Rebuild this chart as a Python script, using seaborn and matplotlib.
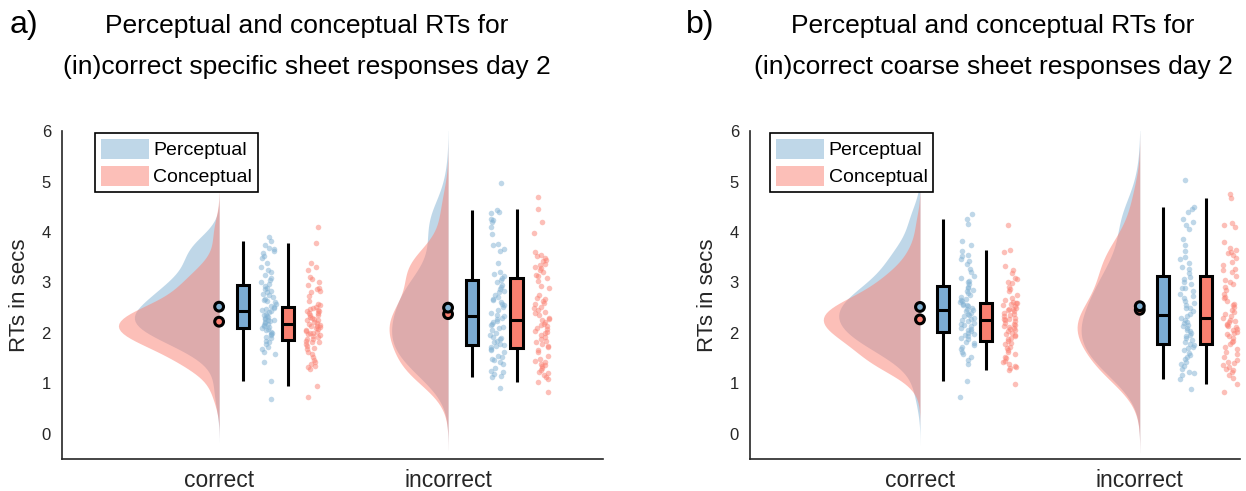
import numpy as np
import pandas as pd
import matplotlib
matplotlib.use("Agg")
import matplotlib.pyplot as plt
from matplotlib.patches import Patch
import seaborn as sns

# RTs (secs)
a_cor_perc = [3.91, 3.83, 3.74, 3.68, 3.66, 3.63, 3.58, 3.53, 3.48, 3.38, 3.30, 3.25, 3.20, 3.14, 3.09, 3.04,
              3.00, 2.97, 2.94, 2.90, 2.87, 2.83, 2.81, 2.78, 2.76, 2.72, 2.68, 2.66, 2.64, 2.61, 2.58, 2.54,
              2.52, 2.50, 2.47, 2.45, 2.43, 2.41, 2.38, 2.36, 2.34, 2.31, 2.30, 2.28, 2.26, 2.25, 2.24, 2.22,
              2.20, 2.18, 2.15, 2.14, 2.12, 2.10, 2.08, 2.05, 2.02, 1.99, 1.98, 1.95, 1.92, 1.89, 1.85, 1.82,
              1.79, 1.72, 1.69, 1.62, 1.59, 1.43, 1.05, 0.69]
a_cor_conc = [4.10, 3.79, 3.38, 3.30, 3.25, 3.10, 3.07, 3.00, 2.95, 2.90, 2.87, 2.84, 2.81, 2.74, 2.64, 2.58,
              2.55, 2.52, 2.50, 2.48, 2.46, 2.44, 2.43, 2.40, 2.39, 2.36, 2.35, 2.31, 2.30, 2.28, 2.26, 2.25,
              2.22, 2.20, 2.18, 2.16, 2.14, 2.13, 2.12, 2.10, 2.08, 2.06, 2.04, 2.02, 2.00, 1.99, 1.97, 1.95,
              1.93, 1.91, 1.88, 1.87, 1.85, 1.83, 1.82, 1.78, 1.74, 1.70, 1.69, 1.62, 1.58, 1.53, 1.46, 1.43,
              1.38, 1.35, 1.33, 1.28, 0.95, 0.73]
a_inc_perc = [4.98, 4.43, 4.40, 4.37, 4.25, 4.23, 4.19, 4.09, 3.97, 3.76, 3.75, 3.66, 3.62, 3.38, 3.20, 3.16,
              3.12, 3.09, 3.04, 3.00, 2.95, 2.91, 2.87, 2.84, 2.81, 2.75, 2.71, 2.68, 2.65, 2.61, 2.58, 2.55,
              2.52, 2.45, 2.40, 2.36, 2.33, 2.30, 2.28, 2.24, 2.22, 2.18, 2.15, 2.12, 2.10, 2.05, 2.00, 1.95,
              1.92, 1.89, 1.87, 1.85, 1.82, 1.79, 1.76, 1.75, 1.72, 1.69, 1.66, 1.62, 1.55, 1.52, 1.49, 1.46,
              1.43, 1.39, 1.30, 1.25, 1.23, 1.18, 1.15, 1.13, 0.90]
a_inc_conc = [4.69, 4.45, 4.20, 3.99, 3.60, 3.55, 3.53, 3.48, 3.45, 3.42, 3.37, 3.35, 3.30, 3.28, 3.25, 3.20,
              3.15, 3.12, 3.09, 3.02, 2.94, 2.90, 2.76, 2.70, 2.68, 2.63, 2.60, 2.58, 2.52, 2.50, 2.46, 2.42,
              2.39, 2.35, 2.30, 2.28, 2.25, 2.22, 2.18, 2.15, 2.13, 2.10, 2.08, 2.04, 2.02, 1.99, 1.95, 1.92,
              1.88, 1.85, 1.82, 1.79, 1.75, 1.72, 1.66, 1.62, 1.55, 1.49, 1.45, 1.42, 1.39, 1.36, 1.34, 1.30,
              1.26, 1.22, 1.20, 1.16, 1.12, 1.08, 1.03, 0.83]

b_cor_perc = [4.35, 4.25, 4.16, 3.83, 3.74, 3.63, 3.55, 3.53, 3.47, 3.43, 3.36, 3.26, 3.20, 3.13, 3.09, 3.03,
              3.00, 2.96, 2.92, 2.89, 2.86, 2.83, 2.79, 2.75, 2.71, 2.68, 2.66, 2.63, 2.61, 2.58, 2.56, 2.55,
              2.53, 2.50, 2.47, 2.45, 2.43, 2.40, 2.38, 2.35, 2.33, 2.30, 2.27, 2.25, 2.23, 2.20, 2.18, 2.15,
              2.13, 2.10, 2.07, 2.05, 2.03, 2.00, 1.98, 1.95, 1.93, 1.90, 1.87, 1.83, 1.80, 1.76, 1.72, 1.69,
              1.63, 1.58, 1.53, 1.46, 1.38, 1.04, 0.73]
b_cor_conc = [4.14, 3.65, 3.60, 3.33, 3.25, 3.19, 3.09, 3.06, 3.00, 2.98, 2.92, 2.88, 2.83, 2.76, 2.69, 2.65,
              2.62, 2.60, 2.59, 2.57, 2.55, 2.53, 2.50, 2.48, 2.47, 2.45, 2.43, 2.40, 2.38, 2.35, 2.33, 2.30,
              2.28, 2.27, 2.25, 2.23, 2.20, 2.18, 2.15, 2.13, 2.12, 2.10, 2.07, 2.05, 2.03, 2.00, 1.98, 1.95,
              1.93, 1.90, 1.87, 1.85, 1.81, 1.78, 1.73, 1.70, 1.66, 1.62, 1.59, 1.53, 1.50, 1.45, 1.42, 1.38,
              1.35, 1.33, 1.30, 1.27, 0.99]
b_inc_perc = [5.03, 4.49, 4.46, 4.40, 4.26, 4.19, 4.13, 4.06, 3.86, 3.75, 3.63, 3.50, 3.46, 3.39, 3.30, 3.26,
              3.19, 3.10, 3.06, 3.00, 2.96, 2.90, 2.89, 2.83, 2.78, 2.73, 2.70, 2.63, 2.60, 2.56, 2.50, 2.49,
              2.43, 2.38, 2.33, 2.30, 2.26, 2.22, 2.19, 2.16, 2.13, 2.10, 2.06, 2.03, 1.99, 1.96, 1.93, 1.90,
              1.86, 1.83, 1.79, 1.76, 1.73, 1.70, 1.66, 1.60, 1.56, 1.52, 1.49, 1.43, 1.39, 1.35, 1.29, 1.23,
              1.20, 1.16, 1.09, 0.89]
b_inc_conc = [4.76, 4.67, 4.18, 4.14, 4.09, 3.80, 3.69, 3.65, 3.60, 3.59, 3.54, 3.49, 3.41, 3.35, 3.27, 3.25,
              3.21, 3.13, 3.05, 3.00, 2.96, 2.91, 2.85, 2.78, 2.72, 2.69, 2.63, 2.58, 2.55, 2.51, 2.46, 2.42,
              2.38, 2.33, 2.30, 2.26, 2.24, 2.21, 2.18, 2.16, 2.13, 2.11, 2.08, 2.06, 2.02, 1.99, 1.97, 1.94,
              1.89, 1.85, 1.83, 1.78, 1.73, 1.68, 1.63, 1.58, 1.53, 1.47, 1.43, 1.40, 1.36, 1.32, 1.29, 1.26,
              1.23, 1.16, 1.10, 0.99, 0.83]

categories = ["correct", "incorrect"]
conditions = ["Perceptual", "Conceptual"]
panel_labels = ["a)", "b)"]
title_lines = [["Perceptual and conceptual RTs for", "(in)correct specific sheet responses day 2"],
               ["Perceptual and conceptual RTs for", "(in)correct coarse sheet responses day 2"]]

PALETTE = {"Perceptual": "#80B1D3", "Conceptual": "#FB8072"}
BOX_COLORS = {"Perceptual": "#7BABD2", "Conceptual": "#F98070"}


def make_frame(cor_perc, cor_conc, inc_perc, inc_conc):
    parts = []
    for cat, cond, vals in [("correct", "Perceptual", cor_perc), ("correct", "Conceptual", cor_conc),
                            ("incorrect", "Perceptual", inc_perc), ("incorrect", "Conceptual", inc_conc)]:
        parts.append(pd.DataFrame({"category": cat, "condition": cond, "rt": vals}))
    df = pd.concat(parts, ignore_index=True)
    df["pos"] = df["category"].map({c: i + 1 for i, c in enumerate(categories)})
    return df


def raincloud(ax, df, xlim, legend_x):
    # half violins: flat side sits on the category position
    for cond, w in [("Perceptual", 0.37), ("Conceptual", 0.44)]:
        sub = df[df["condition"] == cond]
        sns.violinplot(x=sub["pos"] - w / 2, y=sub["rt"], native_scale=True, orient="v", split=True,
                       inner=None, cut=3, width=w, color=PALETTE[cond], saturation=1,
                       alpha=0.5, linewidth=0, ax=ax)

    offsets = {"Perceptual": (0.105, 0.215), "Conceptual": (0.30, 0.41)}
    for cond in conditions:
        sub = df[df["condition"] == cond]
        box_off, pts_off = offsets[cond]
        sns.boxplot(x=sub["pos"] + box_off, y=sub["rt"], native_scale=True, orient="v", width=0.055,
                    color=BOX_COLORS[cond], saturation=1, linecolor="black", linewidth=2.2,
                    showcaps=False, showfliers=False, whis=(1, 99), ax=ax)
        sns.stripplot(x=sub["pos"] + pts_off, y=sub["rt"], native_scale=True, orient="v", jitter=0.033,
                      size=4, color=PALETTE[cond], alpha=0.5, linewidth=0, ax=ax)

    means = df.groupby(["pos", "condition"], as_index=False)["rt"].mean()
    sns.scatterplot(data=means, x="pos", y="rt", hue="condition", palette=PALETTE, s=40,
                    edgecolor="black", linewidth=2.2, legend=False, zorder=6, ax=ax)

    ax.set_xlim(*xlim)
    ax.set_ylim(-0.5, 6)
    ax.set_xticks([1, 2], categories)
    ax.set_yticks(range(7))
    ax.set_xlabel("")
    ax.set_ylabel("RTs in secs", fontsize=16, labelpad=8)
    ax.tick_params(axis="x", direction="in", length=5, width=1.2, labelsize=16.5, pad=7)
    ax.tick_params(axis="y", direction="in", length=5, width=1.2, labelsize=12, pad=8, labelcolor="#262626")
    for side in ["left", "bottom"]:
        ax.spines[side].set_linewidth(1.2)
        ax.spines[side].set_color("#262626")
    sns.despine(ax=ax)

    handles = [Patch(facecolor=PALETTE[c], alpha=0.5, edgecolor="none", label=c) for c in conditions]
    leg = ax.legend(handles=handles, loc="upper left", bbox_to_anchor=(legend_x, 0.994), borderaxespad=0,
                    fontsize=14, handlelength=2.45, handleheight=1.2, labelspacing=0.33,
                    handletextpad=0.25, borderpad=0.3, fancybox=False, edgecolor="black", framealpha=1)
    leg.get_frame().set_linewidth(1.2)
    for t in leg.get_texts():
        t.set_color("black")


sns.set_style("white")
plt.rcParams["font.family"] = ["Liberation Sans", "DejaVu Sans"]
np.random.seed(3)

fig = plt.figure(figsize=(12.46, 4.91), dpi=100)
ax_a = fig.add_axes([0.0498, 0.065, 0.4342, 0.668])
ax_b = fig.add_axes([0.602, 0.065, 0.393, 0.668])

raincloud(ax_a, make_frame(a_cor_perc, a_cor_conc, a_inc_perc, a_inc_conc), (0.314, 2.677), 0.061)
raincloud(ax_b, make_frame(b_cor_perc, b_cor_conc, b_inc_perc, b_inc_conc), (0.227, 2.455), 0.041)

for x_lab, x_mid, label, lines in [(0.008, 0.2464, panel_labels[0], title_lines[0]),
                                   (0.5506, 0.797, panel_labels[1], title_lines[1])]:
    fig.text(x_mid, 0.933, lines[0], ha="center", va="baseline", fontsize=19, color="black")
    fig.text(x_mid, 0.849, lines[1], ha="center", va="baseline", fontsize=19, color="black")
    fig.text(x_lab, 0.933, label, ha="left", va="baseline", fontsize=23, color="black")

fig.savefig("out.png", dpi=100)
